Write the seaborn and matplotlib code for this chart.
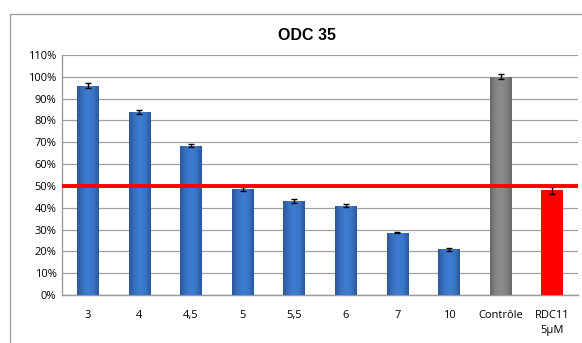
import numpy as np
import pandas as pd
import matplotlib
matplotlib.use("Agg")
import matplotlib.pyplot as plt
import seaborn as sns
from matplotlib.patches import Rectangle

categories = ["3", "4", "4,5", "5", "5,5", "6", "7", "10", "Contrôle", "RDC11\n5µM"]
values = [96, 84, 68.5, 48.5, 43, 41, 28.5, 21, 100, 48]
errors = [1.0, 1.0, 0.7, 1.0, 1.0, 0.5, 0.2, 0.7, 1.2, 1.5]
threshold = 50
yticks = list(range(0, 111, 10))
title = "ODC 35"

sns.set_theme(style="white")
plt.rcParams['font.family'] = ['Open Sans', 'DejaVu Sans']

fig = plt.figure(figsize=(5.82, 3.43), dpi=100)
ax = fig.add_axes([62/582, 1-295/343, (578-62)/582, (295-55)/343])

df = pd.DataFrame({"cat": categories, "val": values})
colors = ["#3A75C8"] * 8 + ["#7F7F7F", "#FF0000"]
sns.barplot(data=df, x="cat", y="val", hue="cat", palette=colors, legend=False,
            width=0.42, ax=ax, zorder=3)

# gradient shading on bars
for i, p in enumerate(ax.patches):
    x0, y0 = p.get_x(), p.get_y()
    w, h = p.get_width(), p.get_height()
    if i < 8:
        cmap = matplotlib.colors.LinearSegmentedColormap.from_list(
            "b", ["#2B579A", "#3870C0", "#3F7DD3", "#3A76C9", "#2B579A"])
    elif i == 8:
        cmap = matplotlib.colors.LinearSegmentedColormap.from_list(
            "g", ["#686868", "#848484", "#8C8C8C", "#828282", "#686868"])
    else:
        cmap = matplotlib.colors.LinearSegmentedColormap.from_list(
            "r", ["#FF0000", "#FF0000"])
    grad = np.linspace(0, 1, 64).reshape(1, -1)
    im = ax.imshow(grad, extent=[x0, x0 + w, y0, y0 + h], aspect="auto",
                   cmap=cmap, zorder=3.5)
    im.set_clip_path(p)
    p.set_edgecolor("none")

ax.errorbar(range(len(values)), values, yerr=errors, fmt="none",
            ecolor="black", elinewidth=1, capsize=2.5, capthick=1, zorder=5)

ax.axhline(threshold, color="#FF0000", lw=2.8, zorder=6)

ax.set_ylim(0, 110)
ax.set_xlim(-0.5, len(values) - 0.5)
ax.set_yticks(yticks)
ax.set_yticklabels([f"{t}%" for t in yticks], fontsize=8, color="black")
ax.tick_params(axis="x", labelsize=8, length=0, pad=11, labelcolor="black")
ax.tick_params(axis="y", length=0, pad=4, labelcolor="black")
for lbl in ax.get_xticklabels():
    lbl.set_linespacing(1.5)
ax.set_xlabel("")
ax.set_ylabel("")
ax.grid(axis="y", color="#A0A0A0", lw=0.9, zorder=0)
ax.set_axisbelow(True)
for s in ["top", "right"]:
    ax.spines[s].set_visible(False)
for s in ["left", "bottom"]:
    ax.spines[s].set_color("#9A9A9A")
    ax.spines[s].set_linewidth(1)

fig.text(307/582, 1-35/343, title, fontsize=11.5, fontweight="bold",
         ha="center", va="center", color="black",
         family=["Liberation Sans", "DejaVu Sans"])

# chart border
fig.patches.append(Rectangle((10/582, -0.1), 1.2, 1.1 - 14/343,
                             transform=fig.transFigure, fill=False,
                             edgecolor="#A0A0A0", lw=1))

fig.savefig("out.png", dpi=100)
